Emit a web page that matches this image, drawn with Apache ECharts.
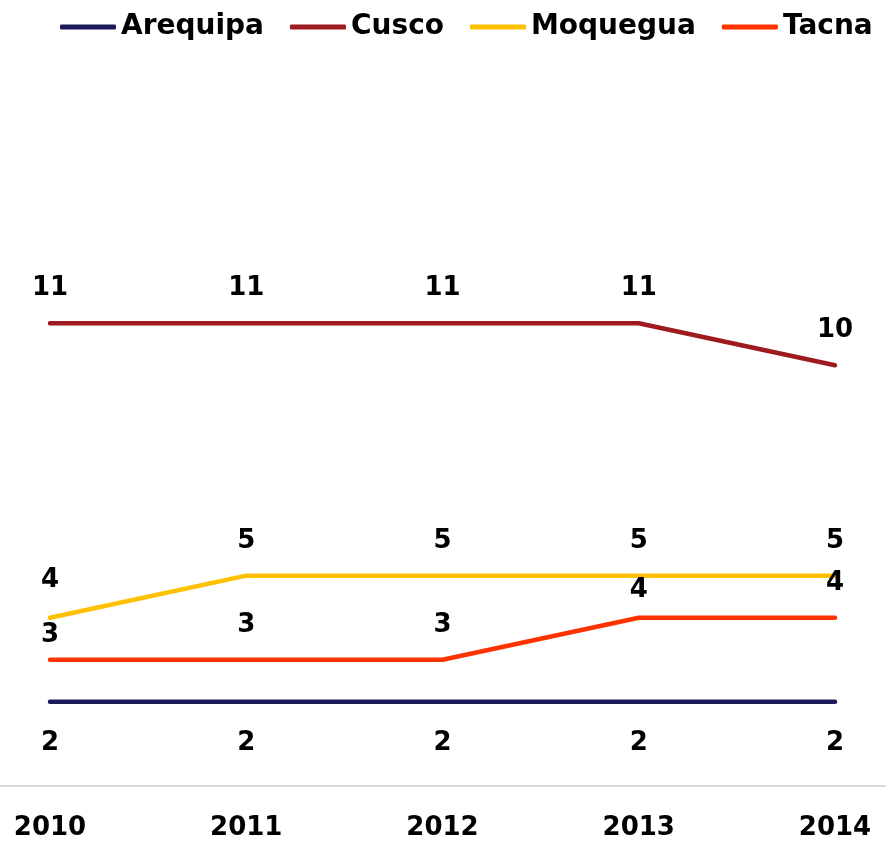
<!DOCTYPE html>
<html>
<head>
<meta charset="utf-8">
<script src="https://cdn.jsdelivr.net/npm/echarts@6/dist/echarts.min.js"></script>
<style>html,body{margin:0;padding:0;background:#fff;}#c{width:886px;height:842px;}</style>
</head>
<body>
<div id="c"></div>
<script>
const years = ['2010', '2011', '2012', '2013', '2014'];
const seriesNames = ['Arequipa', 'Cusco', 'Moquegua', 'Tacna'];
const arequipa = [2, 2, 2, 2, 2];
const cusco = [11, 11, 11, 11, 10];
const moquegua = [4, 5, 5, 5, 5];
const tacna = [3, 3, 3, 4, 4];
const colors = ['#1C1B5C', '#9D1A1F', '#FFC000', '#FF3300'];

// label placement tweaks (distance from line) per point
const labelPos = ['bottom', 'top', 'top', 'top'];
const labelDist = [
  [28, 28, 28, 28, 28],
  [22, 22, 22, 22, 22],
  [24, 21, 21, 21, 21],
  [12, 22, 22, 14, 21]
];
const allValues = [arequipa, cusco, moquegua, tacna];
const FONT = 'DejaVu Sans';

const series = seriesNames.map((name, s) => ({
  name: name,
  type: 'line',
  xAxisIndex: 0,
  yAxisIndex: 0,
  symbol: 'circle',
  symbolSize: 0.01,
  showSymbol: true,
  smooth: false,
  lineStyle: { color: colors[s], width: 4.5, cap: 'round', join: 'round' },
  itemStyle: { color: colors[s] },
  data: allValues[s].map((v, i) => ({
    value: v,
    label: {
      show: true,
      position: labelPos[s],
      distance: labelDist[s][i],
      color: '#000',
      fontFamily: FONT,
      fontWeight: 'bold',
      fontSize: 26
    }
  }))
}));

const chart = echarts.init(document.getElementById('c'), null, { renderer: 'canvas' });
chart.setOption({
  animation: false,
  backgroundColor: '#fff',
  legend: {
    top: 8,
    left: 55,
    icon: 'roundRect',
    itemWidth: 56,
    itemHeight: 5,
    itemGap: 26,
    textStyle: { fontFamily: FONT, fontWeight: 'bold', fontSize: 28, color: '#000' },
    data: seriesNames
  },
  grid: [
    { left: 50, right: 51, top: 197, bottom: 56, containLabel: false },
    { left: 0, right: 0, top: 197, bottom: 56, containLabel: false }
  ],
  xAxis: [
    {
      type: 'category', gridIndex: 0, data: years, boundaryGap: false,
      axisLine: { show: false }, axisTick: { show: false },
      axisLabel: { margin: 29, color: '#000', fontFamily: FONT, fontWeight: 'bold', fontSize: 26 }
    },
    {
      type: 'category', gridIndex: 1, data: years, boundaryGap: false,
      axisLine: { show: true, lineStyle: { color: '#D9D9D9', width: 2 } },
      axisTick: { show: false }, axisLabel: { show: false }
    }
  ],
  yAxis: [
    { type: 'value', gridIndex: 0, min: 0, max: 14, show: false, splitLine: { show: false } },
    { type: 'value', gridIndex: 1, min: 0, max: 14, show: false, splitLine: { show: false } }
  ],
  series: series
});
</script>
</body>
</html>
